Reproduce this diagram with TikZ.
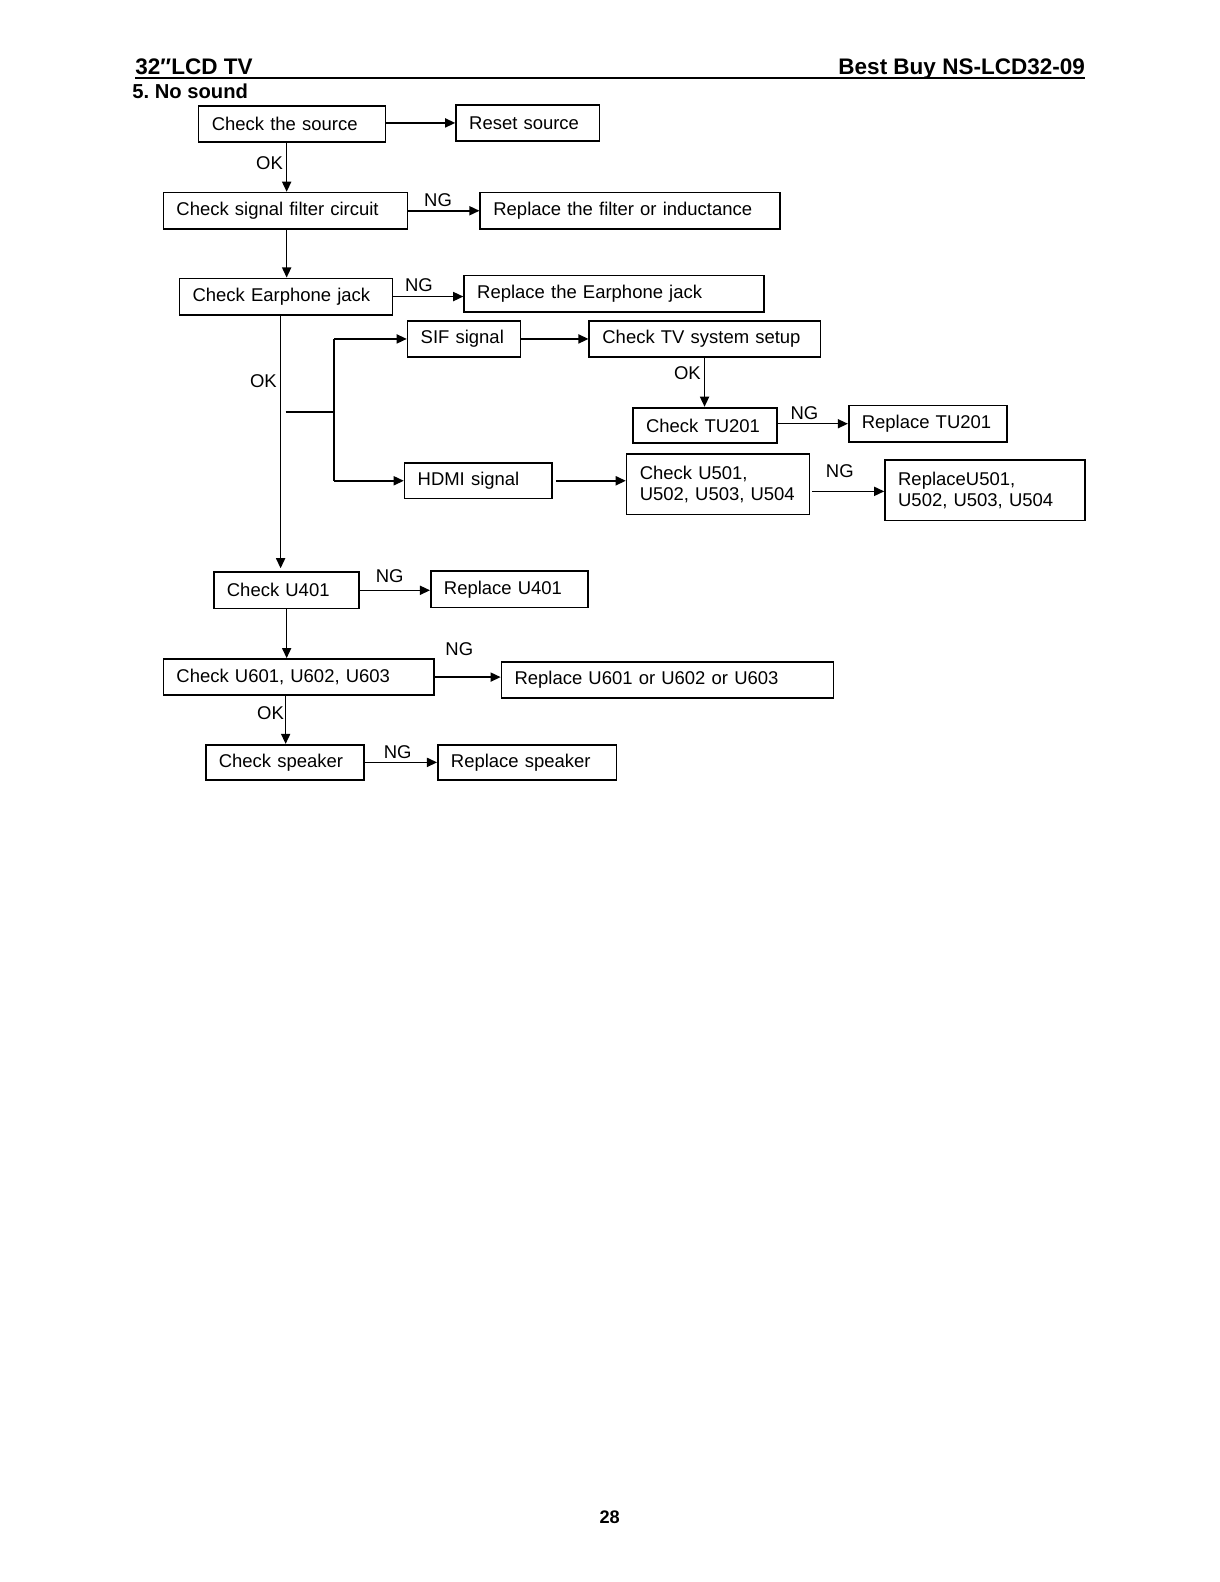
\documentclass[tikz,border=0pt]{standalone}
\usepackage{fontspec}
\setmainfont{Liberation Sans}
\usetikzlibrary{arrows.meta}
\frenchspacing
\begin{document}
\begin{tikzpicture}[x=1pt,y=-1pt,
  box/.style={draw, line width=1.6pt, anchor=north west, inner xsep=13pt, inner ysep=0pt,
    align=left, font=\fontsize{18.3}{21}\selectfont},
  conn/.style={line width=1.5pt},
  arr/.style={line width=1.5pt, -{Triangle[length=10pt,width=9pt]}},
  lbl/.style={font=\fontsize{18.3}{21}\selectfont, inner sep=0pt},
  hdr/.style={font=\fontsize{22.3}{24}\bfseries\selectfont, inner sep=0pt}]
\useasboundingbox[fill=white] (0,0) rectangle (1207.7,1567.3);
% header
\node[hdr, anchor=base west] (h1) at (134,74) {32″LCD TV};
\node[hdr, anchor=base east] (h2) at (1075,74) {Best Buy NS-LCD32-09};
\coordinate (ul) at (0,77);
\draw[line width=1.7pt] (h1.base west |- ul) -- (h2.base east |- ul);
\node[font=\fontsize{20}{22}\bfseries\selectfont, inner sep=0pt, anchor=base west] (title) at (131,98) {5. No sound};
% boxes
\node[box, text width=159pt, minimum height=36pt] (src) at (196,104) {Check the source};
\node[box, text width=116pt, minimum height=36pt] (reset) at (451,103) {Reset source};
\node[box, text width=216pt, minimum height=36pt] (filt) at (161,190) {Check signal filter circuit};
\node[box, text width=271pt, minimum height=36pt] (rfilt) at (475,190) {Replace the filter or inductance};
\node[box, text width=185pt, minimum height=36pt] (ear) at (177,275) {Check Earphone jack};
\node[box, text width=271pt, minimum height=36pt] (rear) at (459,272) {Replace the Earphone jack};
\node[box, text width=86pt, minimum height=36pt] (sif) at (403,317) {SIF signal};
\node[box, text width=203pt, minimum height=36pt] (tv) at (583,317) {Check TV system setup};
\node[box, text width=117pt, minimum height=35pt, line width=2pt] (tu) at (626,403) {Check TU201};
\node[box, text width=131pt, minimum height=36pt] (rtu) at (840,401) {Replace TU201};
\node[box, text width=120pt, minimum height=35pt] (hdmi) at (400,458) {HDMI signal};
\node[box, text width=155pt, minimum height=60pt] (u5) at (620,449) {\mbox{Check U501,}\\\mbox{U502, U503, U504}};
\node[box, text width=172pt, minimum height=60pt] (ru5) at (876,455) {\mbox{ReplaceU501,}\\\mbox{U502, U503, U504}};
\node[box, text width=118pt, minimum height=36pt] (u4) at (211,566) {Check U401};
\node[box, text width=130pt, minimum height=36pt] (ru4) at (426,565) {Replace U401};
\node[box, text width=242pt, minimum height=36pt] (u6) at (161,652) {Check U601, U602, U603};
\node[box, text width=303pt, minimum height=36pt] (ru6) at (496,655) {Replace U601 or U602 or U603};
\node[box, text width=131pt, minimum height=35pt] (spk) at (203,737) {Check speaker};
\node[box, text width=151pt, minimum height=35pt] (rspk) at (433,737) {Replace speaker};
% helper coordinates
\coordinate (xa) at (284,0);
\coordinate (xb) at (278,0);
\coordinate (xc) at (698,0);
\coordinate (xd) at (283,0);
\coordinate (br) at (283,408);
\coordinate (bj) at (331,408);
% connectors
\draw[arr] (src.east |- reset.west) -- (reset.west);
\draw[arr] (xa |- src.south) -- (xa |- filt.north);
\draw[arr] (filt.east) -- (filt.east -| rfilt.west);
\draw[arr] (xa |- filt.south) -- (xa |- ear.north);
\draw[arr] (ear.east) -- (ear.east -| rear.west);
\draw[arr] (xb |- ear.south) -- ([yshift=3pt]xb |- u4.north);
\draw[conn] (br) -- (bj);
\draw[conn] (bj |- sif.west) -- (bj |- hdmi.west);
\draw[arr] (bj |- sif.west) -- (sif.west);
\draw[arr] (bj |- hdmi.west) -- (hdmi.west);
\draw[arr] (sif.east) -- (sif.east -| tv.west);
\draw[arr] (xc |- tv.south) -- (xc |- tu.north);
\draw[arr] (rtu.west -| tu.east) -- (rtu.west);
\draw[arr, shorten <=3pt] (hdmi.east) -- (hdmi.east -| u5.west);
\draw[arr, shorten <=2pt] ([yshift=-1pt]ru5.west -| u5.east) -- ([yshift=-1pt]ru5.west);
\draw[arr] (u4.east) -- (u4.east -| ru4.west);
\draw[arr] (xa |- u4.south) -- (xa |- u6.north);
\draw[arr] (u6.east) -- (u6.east -| ru6.west);
\draw[arr] (xd |- u6.south) -- (xd |- spk.north);
\draw[arr] (spk.east) -- (spk.east -| rspk.west);
% labels
\node[lbl] (l1) at (267,162) {OK};
\node[lbl] (l2) at (434,198) {NG};
\node[lbl] (l3) at (415,282) {NG};
\node[lbl] (l4) at (261,378) {OK};
\node[lbl] (l5) at (681,370) {OK};
\node[lbl] (l6) at (797,409) {NG};
\node[lbl] (l7) at (832,467) {NG};
\node[lbl] (l8) at (386,571) {NG};
\node[lbl] (l9) at (455,643) {NG};
\node[lbl] (l10) at (268,707) {OK};
\node[lbl] (l11) at (394,745) {NG};
% page number
\node[font=\fontsize{18}{20}\bfseries\selectfont, inner sep=0pt] (pg) at (604,1503) {28};
\end{tikzpicture}
\end{document}
